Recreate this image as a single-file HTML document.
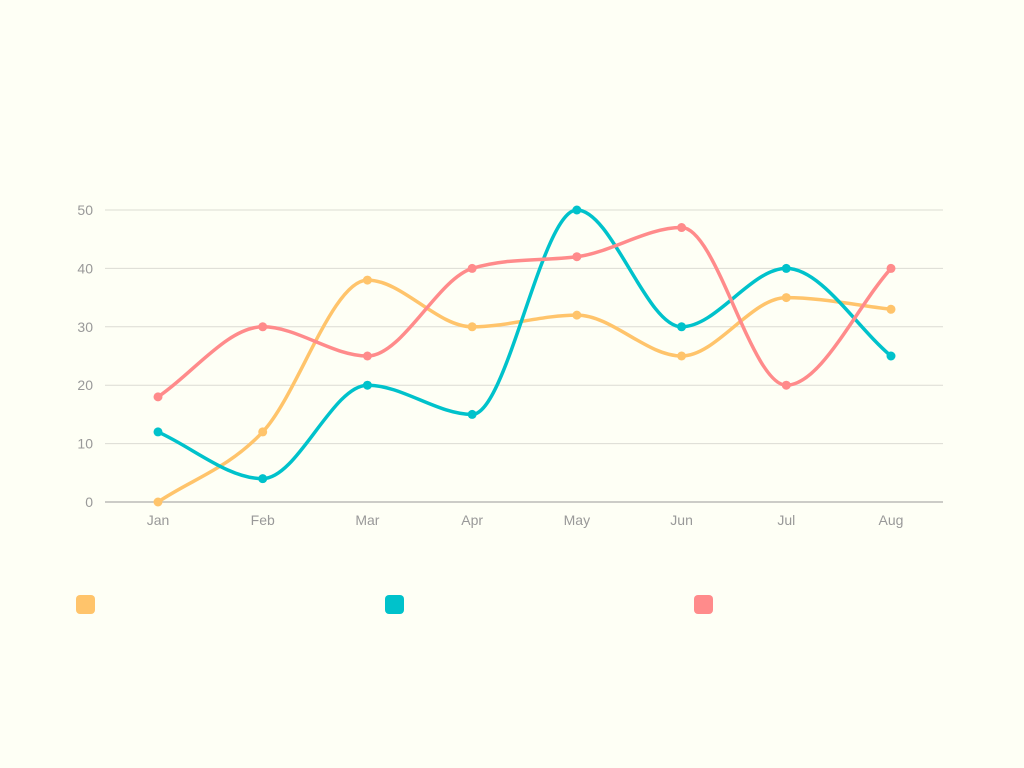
<!DOCTYPE html>
<html><head><meta charset="utf-8"><style>
body{margin:0;background:#fefff5;}
svg{display:block;font-family:"Liberation Sans",sans-serif;}
</style></head><body>
<svg id="chart" width="1024" height="768">
<rect width="1024" height="768" fill="#fefff5"/>
<g id="grid"></g><g id="series"></g><g id="legend"></g>
</svg>
<script>
const categories=["Jan","Feb","Mar","Apr","May","Jun","Jul","Aug"];
const seriesA=[0,12,38,30,32,25,35,33];
const seriesB=[12,4,20,15,50,30,40,25];
const seriesC=[18,30,25,40,42,47,20,40];
const yTicks=[0,10,20,30,40,50];
const colors=["#ffc46b","#00c2cb","#ff8b8b"];
const NS="http://www.w3.org/2000/svg";
const x=i=>158+i*(891-158)/(categories.length-1);
const y=v=>502-v*(502-210)/50;
function mk(t,a,p){const e=document.createElementNS(NS,t);for(const k in a)e.setAttribute(k,a[k]);p.appendChild(e);return e;}
const grid=document.getElementById('grid');
yTicks.forEach(t=>{
 const l=mk('line',{x1:105,x2:943,y1:y(t),y2:y(t),stroke:t===0?'#999':'#dcdcd4','stroke-width':1},grid);
 
 
 const tx=mk('text',{x:93,y:y(t)+5,'text-anchor':'end','font-size':14,fill:'#999'},grid);tx.textContent=t;
 
 
});
categories.forEach((c,i)=>{
 const tx=mk('text',{x:x(i),y:525,'text-anchor':'middle','font-size':14,fill:'#999'},grid);tx.textContent=c;
 
 
});
function path(vals){
 const p=vals.map((v,i)=>[x(i),y(v)]);const n=p.length;
 const d=[],m=[];
 for(let i=0;i<n-1;i++)d.push((p[i+1][1]-p[i][1])/(p[i+1][0]-p[i][0]));
 for(let i=0;i<n;i++){
  if(i===0)m.push(d[0]);else if(i===n-1)m.push(d[n-2]);
  else{const a=d[i-1],b=d[i];m.push(a*b<=0?0:(a+b)/2);}
 }
 for(let i=0;i<n-1;i++){
  const a=m[i]/d[i],b=m[i+1]/d[i];
  if(d[i]===0){m[i]=0;m[i+1]=0;continue;}
  const s=a*a+b*b;if(s>9){const t=3/Math.sqrt(s);m[i]=t*a*d[i];m[i+1]=t*b*d[i];}
 }
 let s='M'+p[0];
 for(let i=0;i<n-1;i++){
  const h=(p[i+1][0]-p[i][0])/3;
  s+='C'+[p[i][0]+h,p[i][1]+m[i]*h]+' '+[p[i+1][0]-h,p[i+1][1]-m[i+1]*h]+' '+p[i+1];
 }return s;}
const sg=document.getElementById('series');
[seriesA,seriesB,seriesC].forEach((s,k)=>{
 const g=mk('g',{},sg);
 
 
 const pa=mk('path',{d:path(s),fill:'none',stroke:colors[k],'stroke-width':3.5},g);
 
 
 s.forEach((v,i)=>{const c=mk('circle',{cx:x(i),cy:y(v),r:4.5,fill:colors[k]},g);
  
  });
});
const lg=document.getElementById('legend');
[76,385,694].forEach((lx,k)=>{
 const r=mk('rect',{x:lx,y:595,width:19,height:19,rx:4,fill:colors[k]},lg);
 
 
});
</script>
</body></html>
